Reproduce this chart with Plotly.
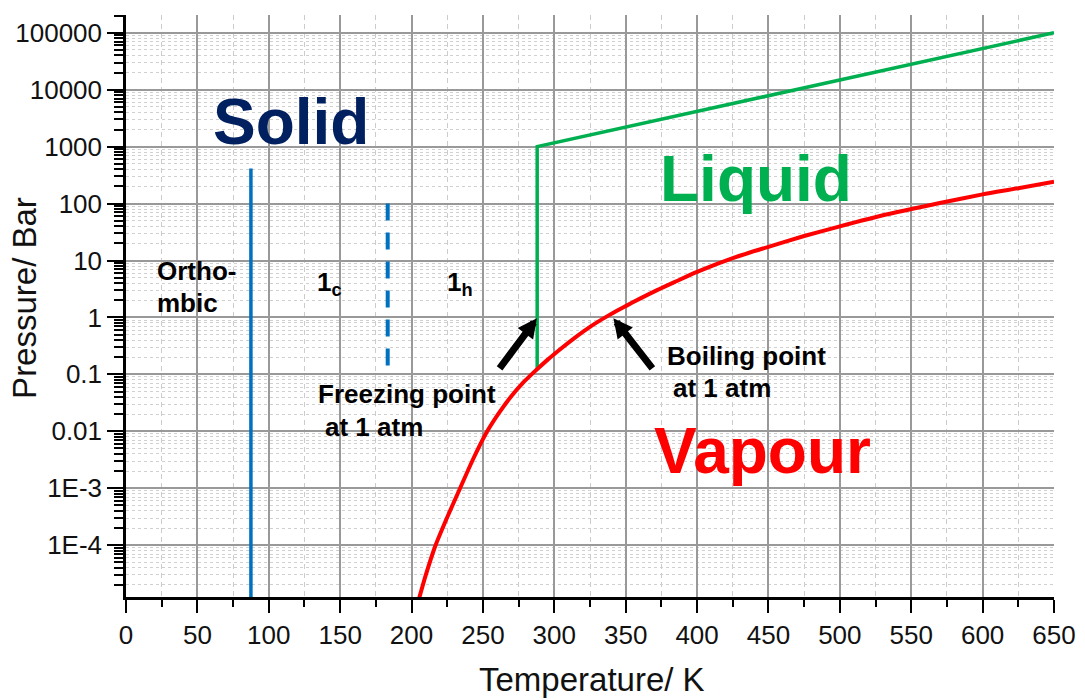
import plotly.graph_objects as go

# ---------------- data ----------------
T_vap = [204, 210, 216.5, 225, 234, 243, 253, 262, 270, 278, 285, 295, 305, 315, 325,
         339, 350, 360, 372, 385, 400, 425, 450, 475, 500, 535, 570, 600, 625, 650]
P_vap = [8.9e-6, 3.0e-5, 9.5e-5, 3.1e-4, 1.0e-3, 3.2e-3, 0.010, 0.0224, 0.0417, 0.0708,
         0.105, 0.178, 0.288, 0.452, 0.684, 1.12, 1.58, 2.14, 3.02, 4.27,
         6.31, 11.0, 17.4, 26.9, 39.8, 66.1, 102, 145, 186, 242]

T_melt = [288, 288, 650]
P_melt = [0.12, 1000, 100000]

T_ortho = [87.5, 87.5]
P_ortho = [1e-6, 415]

T_1c1h = [183.3, 183.3]
P_1c1h = [100, 0.1]

y_tickvals = [1e5, 1e4, 1e3, 1e2, 10, 1, 0.1, 0.01, 1e-3, 1e-4]
y_ticktext = ["100000", "10000", "1000", "100", "10", "1", "0.1", "0.01", "1E-3", "1E-4"]

FONT = "Liberation Sans, Arial, sans-serif"
BLUE = "#0070C0"
GREEN = "#00B050"
RED = "#FF0000"
NAVY = "#002060"

fig = go.Figure()
fig.add_trace(go.Scatter(x=T_ortho, y=P_ortho, mode="lines",
                         line=dict(color=BLUE, width=3.5), showlegend=False))
fig.add_trace(go.Scatter(x=T_1c1h, y=P_1c1h, mode="lines",
                         line=dict(color=BLUE, width=4, dash="17px,12px"), showlegend=False))
fig.add_trace(go.Scatter(x=T_melt, y=P_melt, mode="lines",
                         line=dict(color=GREEN, width=3.5), showlegend=False))
fig.add_trace(go.Scatter(x=T_vap, y=P_vap, mode="lines",
                         line=dict(color=RED, width=4, shape="spline", smoothing=0.6),
                         showlegend=False))

ann = []

def txt(x, y, s, size, color="black", xanchor="center", xref="x", yref="y", angle=0):
    ann.append(dict(x=x, y=y, xref=xref, yref=yref, text=s, showarrow=False,
                    xanchor=xanchor, yanchor="middle", textangle=angle,
                    font=dict(family=FONT, size=size, color=color)))

# big region labels (y in log10 units)
txt(115.3, 3.44, "<b>Solid</b>", 64, NAVY)
txt(441.1, 2.43, "<b>Liquid</b>", 64, GREEN)
txt(445.9, -2.35, "<b>Vapour</b>", 64, RED)

# small labels
txt(20.3, 0.816, "<b>Ortho-</b>", 26, xanchor="left")
txt(20.3, 0.254, "<b>mbic</b>", 26, xanchor="left")
txt(132.4, 0.60, "<b>1<sub>c</sub></b>", 26, xanchor="left")
txt(223.5, 0.60, "<b>1<sub>h</sub></b>", 26, xanchor="left")
txt(133.1, -1.353, "<b>Freezing point</b>", 26, xanchor="left")
txt(138.0, -1.924, "<b>at 1 atm</b>", 26, xanchor="left")
txt(377.7, -0.677, "<b>Boiling point</b>", 26, xanchor="left")
txt(381.6, -1.239, "<b>at 1 atm</b>", 26, xanchor="left")

# arrows
for (hx, hy, tx, ty) in [(287.8, -0.015, 260.9, -0.92), (341.4, -0.015, 369.5, -0.92)]:
    ann.append(dict(x=hx, y=hy, ax=tx, ay=ty, xref="x", yref="y", axref="x", ayref="y",
                    text="", showarrow=True, arrowhead=2, arrowsize=0.55,
                    arrowwidth=7, arrowcolor="black"))

# axis titles
txt(0.502, -0.1426, "Temperature/ K", 33, "#111111", xref="paper", yref="paper")
txt(-0.1088, 0.514, "Pressure/ Bar", 33, "#111111", xref="paper", yref="paper", angle=-90)

fig.update_layout(
    width=1085, height=700,
    margin=dict(l=126, r=31, t=15, b=103),
    plot_bgcolor="white", paper_bgcolor="white",
    font=dict(family=FONT, size=26, color="#111111"),
    annotations=ann,
    xaxis=dict(range=[0, 650], dtick=50, tick0=0, automargin=False,
               showline=True, linecolor="black", linewidth=2.5,
               ticks="outside", ticklen=13, tickwidth=2, tickcolor="black",
               showgrid=True, gridcolor="#999999", gridwidth=1.5, zeroline=False,
               tickfont=dict(family=FONT, size=26, color="#111111"),
               minor=dict(dtick=25, ticks="outside", ticklen=7, tickwidth=2, tickcolor="black",
                          showgrid=True, gridcolor="#cccccc", gridwidth=1, griddash="5px,4px")),
    yaxis=dict(type="log", range=[-4.91, 5.312], automargin=False,
               tickmode="array", tickvals=y_tickvals, ticktext=y_ticktext,
               showline=True, linecolor="black", linewidth=2.5,
               ticks="outside", ticklen=16, tickwidth=2, tickcolor="black",
               showgrid=True, gridcolor="#999999", gridwidth=1.5, zeroline=False,
               tickfont=dict(family=FONT, size=26, color="#111111"),
               minor=dict(dtick="D1", ticks="outside", ticklen=9, tickwidth=2, tickcolor="black",
                          showgrid=True, gridcolor="#d0d0d0", gridwidth=1, griddash="3px,3px")),
)

fig.write_html("out.html", config={"displayModeBar": False},
               post_script="document.body.style.margin='0';document.body.style.overflow='hidden';")
